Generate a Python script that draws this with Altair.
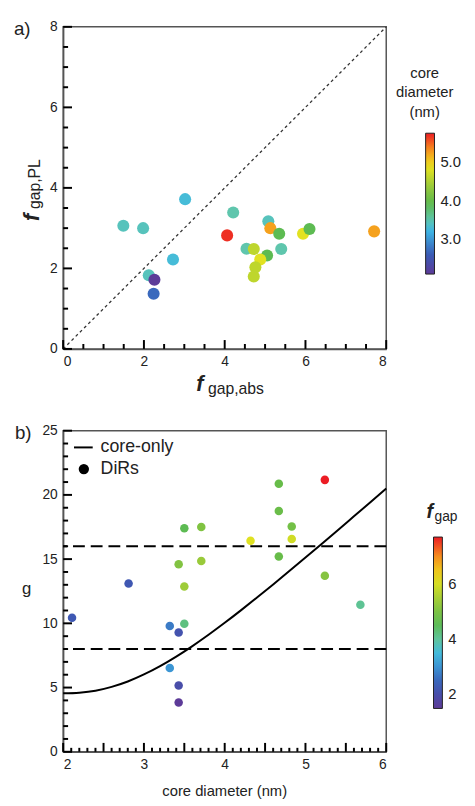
import altair as alt
import pandas as pd

FONT = "Liberation Sans"

# ---------------- panel a) data ----------------
fgap_abs = [1.49, 1.98, 3.02, 2.72, 2.12, 2.26, 2.24, 4.21, 4.06, 5.08, 5.13,
            5.35, 5.94, 6.10, 4.54, 4.72, 5.40, 5.05, 4.88, 4.76, 4.72, 7.70]
fgap_pl = [3.06, 3.00, 3.72, 2.22, 1.83, 1.72, 1.37, 3.39, 2.82, 3.17, 3.00,
           2.86, 2.86, 2.98, 2.49, 2.48, 2.48, 2.32, 2.22, 2.03, 1.80, 2.92]
core_a = [3.43, 3.43, 3.30, 3.30, 3.43, 2.11, 2.70, 3.50, 5.68, 3.43, 5.24,
          3.90, 4.83, 3.90, 3.50, 4.60, 3.50, 3.90, 4.83, 4.60, 4.60, 5.24]
diag = [0, 8]
a_major = [0, 2, 4, 6, 8]
a_minor = [0.5, 1, 1.5, 2.5, 3, 3.5, 4.5, 5, 5.5, 6.5, 7, 7.5]
a_cbar_labels = [3, 4, 5]

# ---------------- panel b) data ----------------
core_b = [2.11, 2.81, 3.32, 3.43, 3.50, 3.32, 3.43, 3.43, 3.50, 3.71, 3.43,
          3.71, 3.50, 4.32, 4.67, 4.67, 4.83, 4.83, 4.67, 5.24, 5.24, 5.68]
g_b = [10.43, 13.10, 9.79, 9.28, 9.97, 6.52, 5.16, 3.83, 17.40, 17.50, 14.60,
       14.85, 12.86, 16.43, 20.86, 18.74, 17.54, 16.56, 15.21, 21.17, 13.70, 11.45]
fgap_b = [2.26, 2.24, 2.72, 2.12, 4.21, 3.02, 1.98, 1.49, 4.54, 5.05, 5.08,
          5.35, 5.40, 6.10, 4.72, 4.76, 4.88, 5.94, 4.72, 7.70, 5.13, 4.06]
curve_d = [2.0, 2.2, 2.4, 2.6, 2.8, 3.0, 3.2, 3.4, 3.6, 3.8, 4.0, 4.2, 4.4,
           4.6, 4.8, 5.0, 5.2, 5.4, 5.6, 5.8, 6.0]
curve_g = [4.55, 4.60, 4.75, 5.05, 5.47, 6.02, 6.67, 7.41, 8.23, 9.11, 10.04,
           11.01, 12.01, 13.03, 14.07, 15.12, 16.18, 17.25, 18.33, 19.41, 20.50]
thresholds = [8, 16]
b_x_major = [2, 2.5, 3, 3.5, 4, 4.5, 5, 5.5, 6]
b_x_minor = [round(2 + 0.1 * i, 2) for i in range(41) if i % 5 != 0]
b_y_major = [0, 5, 10, 15, 20, 25]
b_y_minor = [i for i in range(26) if i % 5 != 0]
b_cbar_labels = [2, 4, 6]

# colour map (purple -> red rainbow)
cb_colors = ["#5d3b98", "#3a5cb6", "#3db8e6", "#5fc6b0", "#5dba4c", "#8dc63f",
             "#e9e41d", "#f7941d", "#ec1c24"]
cb_pos = [0, 0.14, 0.31, 0.38, 0.50, 0.60, 0.76, 0.88, 1.0]


def stops(lo, hi):
    return [lo + (hi - lo) * t for t in cb_pos]


W, H1, H2 = 328, 327, 326
one = pd.DataFrame({"k": [0]})
TICK_COLOR = "#000"
MINOR, MAJOR = 5, 9


def txt(text, x, y, size=15, align="left", baseline="middle", angle=None,
        style="normal", weight="normal"):
    kw = dict(text=text, fontSize=size, align=align, baseline=baseline, font=FONT,
              color="#222", fontStyle=style, fontWeight=weight)
    if angle is not None:
        kw["angle"] = angle
    return alt.Chart(one).mark_text(**kw).encode(x=alt.value(x), y=alt.value(y))


def ticks_x(vals, X, Y, y0, ylen, name):
    # inward ticks on the bottom axis; length given in data units of the y scale
    df = pd.DataFrame({name: vals, name + "_a": [y0] * len(vals),
                       name + "_b": [y0 + ylen] * len(vals)})
    return alt.Chart(df).mark_rule(color=TICK_COLOR, strokeWidth=2, opacity=1).encode(
        x=X(name), y=Y(name + "_a"), y2=alt.Y2(name + "_b"))


def ticks_y(vals, X, Y, x0, xlen, name):
    df = pd.DataFrame({name: vals, name + "_a": [x0] * len(vals),
                       name + "_b": [x0 + xlen] * len(vals)})
    return alt.Chart(df).mark_rule(color=TICK_COLOR, strokeWidth=2, opacity=1).encode(
        y=Y(name), x=X(name + "_a"), x2=alt.X2(name + "_b"))


def cbar_legend(x, y, length, vals, fmt):
    return alt.Legend(orient="none", legendX=x, legendY=y, direction="vertical", title=None,
                      gradientLength=length, gradientThickness=9,
                      gradientStrokeColor="#222", gradientStrokeWidth=1,
                      values=vals, format=fmt, labelFontSize=15, labelOffset=6,
                      labelColor="#222", labelFont=FONT, padding=0)


# ---------------- panel a) ----------------
sx1 = alt.Scale(domain=[0, 8], nice=False, zero=False)
sy1 = alt.Scale(domain=[0, 8], nice=False, zero=False)
ax1 = alt.Axis(values=a_major, title=None, format="d")


def X1(f):
    return alt.X(f, type="quantitative", scale=sx1, axis=ax1)


def Y1(f):
    return alt.Y(f, type="quantitative", scale=sy1, axis=ax1)


px1x, px1y = 8 / W, 8 / H1   # data units per pixel
df_a = pd.DataFrame({"fabs": fgap_abs, "fpl": fgap_pl, "d": core_a})
diag_line = alt.Chart(pd.DataFrame({"u": diag, "w": diag})).mark_line(
    color="#333", strokeWidth=1.3, strokeDash=[3, 3]).encode(x=X1("u"), y=Y1("w"))

pts_a = alt.Chart(df_a).mark_circle(size=150, opacity=1).encode(
    x=X1("fabs"), y=Y1("fpl"),
    color=alt.Color("d:Q", scale=alt.Scale(domain=stops(2.1, 5.75), range=cb_colors,
                                            interpolate="rgb"),
                    legend=cbar_legend(368, 108, 143, a_cbar_labels, ".1f")))

top = alt.layer(
    pts_a,
    diag_line,
    ticks_x(a_minor, X1, Y1, 0, MINOR * px1y, "xa1"),
    ticks_x(a_major, X1, Y1, 0, MAJOR * px1y, "xa2"),
    ticks_y(a_minor, X1, Y1, 0, MINOR * px1x, "ya1"),
    ticks_y(a_major, X1, Y1, 0, MAJOR * px1x, "ya2"),
    txt("a)", -50, 2, size=19),
    txt("f", -32, 197, size=22, angle=270, style="italic", weight="bold"),
    txt("gap,PL", -29, 185, size=16, angle=270),
    txt("f", 135, 363, size=22, style="italic", weight="bold"),
    txt("gap,abs", 147, 368, size=16),
    txt("core", 367, 47, align="center"),
    txt("diameter", 367, 66, align="center"),
    txt("(nm)", 367, 87, align="center"),
).properties(width=W, height=H1)

# ---------------- panel b) ----------------
sx2 = alt.Scale(domain=[2, 6], nice=False, zero=False)
sy2 = alt.Scale(domain=[0, 25], nice=False, zero=False)
ax2x = alt.Axis(values=[2, 3, 4, 5, 6], title=None, format="d")
ax2y = alt.Axis(values=b_y_major, title=None, format="d")


def X2(f):
    return alt.X(f, type="quantitative", scale=sx2, axis=ax2x)


def Y2(f):
    return alt.Y(f, type="quantitative", scale=sy2, axis=ax2y)


px2x, px2y = 4 / W, 25 / H2
df_b = pd.DataFrame({"d": core_b, "g": g_b, "fg": fgap_b})
dashes = alt.Chart(pd.DataFrame({"t": thresholds})).mark_rule(
    color="black", strokeWidth=2, strokeDash=[12, 6]).encode(y=Y2("t"))
curve = alt.Chart(pd.DataFrame({"d": curve_d, "g": curve_g})).mark_line(
    color="black", strokeWidth=2, interpolate="monotone").encode(x=X2("d"), y=Y2("g"))
pts_b = alt.Chart(df_b).mark_circle(size=75, opacity=1).encode(
    x=X2("d"), y=Y2("g"),
    color=alt.Color("fg:Q", scale=alt.Scale(domain=stops(1.49, 7.7), range=cb_colors,
                                             interpolate="rgb"),
                    legend=cbar_legend(376, 108, 174, b_cbar_labels, "d")))

leg_line = alt.Chart(one).mark_rule(color="black", strokeWidth=2).encode(
    x=alt.value(11), x2=alt.value(30), y=alt.value(17))
leg_dot = alt.Chart(one).mark_circle(color="black", size=110, opacity=1).encode(
    x=alt.value(21), y=alt.value(39))

bottom = alt.layer(
    pts_b,
    dashes, curve,
    ticks_x(b_x_minor, X2, Y2, 0, 4 * px2y, "xb1"),
    ticks_x(b_x_major, X2, Y2, 0, MAJOR * px2y, "xb2"),
    ticks_y(b_y_minor, X2, Y2, 2, MINOR * px2x, "yb1"),
    ticks_y(b_y_major, X2, Y2, 2, MAJOR * px2x, "yb2"),
    leg_line, leg_dot,
    txt("core-only", 38, 17, size=18),
    txt("DiRs", 38, 39, size=18),
    txt("b)", -49, 2, size=19),
    txt("g", -37, 161, size=17, align="center"),
    txt("core diameter (nm)", 164, 366, size=15, align="center"),
    txt("f", 369, 83, size=20, style="italic", weight="bold"),
    txt("gap", 377, 88, size=14),
).properties(width=W, height=H2)

chart = alt.vconcat(top, bottom, spacing=25).resolve_scale(color="independent").configure(
    font=FONT).configure_view(stroke="#555", strokeWidth=1.5).configure_axis(
    ticks=False, grid=False, domainColor="#555", domainWidth=1.5,
    labelFontSize=14, labelFont=FONT, labelColor="#222", labelPadding=6)

chart.save("out.html", embed_options={"renderer": "svg", "actions": False})
